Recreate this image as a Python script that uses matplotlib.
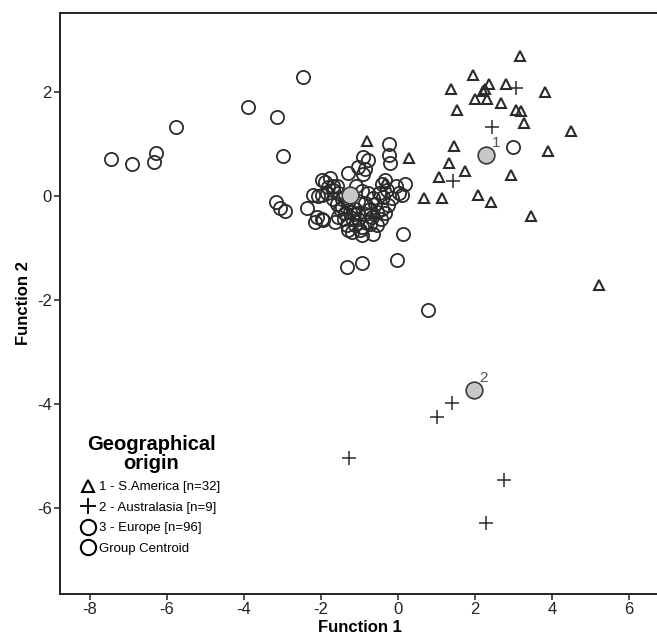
import matplotlib
matplotlib.use("Agg")
import matplotlib.pyplot as plt
from matplotlib.lines import Line2D

plt.rcParams["axes.unicode_minus"] = False

# ---------- data ----------
# 1 - S.America (triangles)
sam_x = [3.17, 1.95, 1.38, 2.37, 2.21, 2.81, 3.82, 2.00, 2.32, 2.66,
         1.52, 3.07, 3.19, 3.26, 4.49, 3.89, 1.44, 0.28, 1.33, 1.74,
         1.07, 2.94, 0.66, 1.14, 2.07, 2.40, 3.45, 5.22, -0.81, -0.34,
         2.25, -0.60]
sam_y = [2.70, 2.33, 2.05, 2.15, 2.03, 2.15, 2.01, 1.87, 1.87, 1.79,
         1.65, 1.65, 1.64, 1.40, 1.25, 0.87, 0.97, 0.73, 0.63, 0.49,
         0.37, 0.40, -0.03, -0.03, 0.03, -0.12, -0.38, -1.71, 1.06, 0.26,
         2.05, -0.30]

# 2 - Australasia (plus)
aus_x = [3.07, 2.45, 1.42, 1.40, 1.00, 2.74, 2.28, -1.27, -0.70]
aus_y = [2.08, 1.32, 0.29, -3.97, -4.24, -5.46, -6.28, -5.04, -0.35]

# 3 - Europe (circles)
eur_x = [-7.46, -6.92, -6.30, -6.33, -5.77, -3.90, -3.14, -2.47, -3.00, -3.16,
         -3.07, -2.93, -2.37, -2.17, -1.98, -2.20, -2.09, -1.98, -1.77, -1.90,
         -1.81, -1.68, -1.98, -2.11, -1.94, -1.64, -1.55, -1.46, -1.29, -1.12,
         -1.38, -1.20, -1.03, -1.33, -1.12, -0.94, -0.73, -0.55, -1.20, -0.94,
         -0.64, -0.86, -0.73, -0.55, -0.68, -0.42, -0.25, -0.34, -0.77, -0.64,
         -0.34, -0.42, -0.29, 0.18, 0.01, -0.16, -0.38, 0.10, 0.12, -0.23,
         -0.23, -0.21, -0.90, -0.77, -1.03, -0.86, -0.90, -1.31, -1.32, -0.94,
         -0.02, 0.78, 2.98, -1.55, -1.70, -1.60, -1.45, -1.05, -0.95, -1.10,
         -1.25, -1.40, -1.05, -0.85, -0.60, -1.50, -1.30, -1.00, -0.80, -1.85,
         -1.15, -1.60, -0.50, -0.45, -0.05, -1.70]
eur_y = [0.72, 0.62, 0.82, 0.65, 1.33, 1.71, 1.53, 2.28, 0.77, -0.11,
         -0.22, -0.29, -0.22, -0.49, -0.45, 0.03, 0.00, 0.31, 0.34, 0.28,
         0.18, 0.12, 0.02, -0.40, -0.46, -0.49, -0.40, -0.21, -0.14, -0.24,
         -0.33, -0.43, -0.33, -0.56, -0.56, -0.59, -0.53, -0.56, -0.69, -0.75,
         -0.72, -0.14, -0.24, -0.30, -0.40, -0.24, -0.17, -0.33, 0.05, -0.04,
         0.31, 0.24, 0.12, 0.24, 0.05, -0.04, -0.01, 0.02, -0.72, 1.00,
         0.79, 0.63, 0.76, 0.69, 0.56, 0.52, 0.42, 0.44, -1.37, -1.28,
         -1.22, -2.19, 0.94, 0.05, -0.05, 0.20, -0.05, -0.10, 0.10, 0.20,
         -0.30, -0.45, -0.45, -0.35, -0.15, -0.25, -0.65, -0.65, -0.50, 0.05,
         -0.35, -0.15, 0.05, -0.45, 0.20, 0.20]

# group centroids
cen_x = [2.29, 1.97, -1.26]
cen_y = [0.79, -3.73, 0.03]
cen_lab = ["1", "2", ""]

legend_labels = ["1 - S.America [n=32]", "2 - Australasia [n=9]",
                 "3 - Europe [n=96]", "Group Centroid"]

INK = "#2b2b2b"
FONT = ["Liberation Sans", "DejaVu Sans"]

fig = plt.figure(figsize=(6.57, 6.38), dpi=100)
ax = fig.add_axes([60 / 657, 44 / 638, 600 / 657, 581 / 638])

ax.plot(eur_x, eur_y, "o", ms=9.5, mfc="none", mec=INK, mew=1.3, zorder=2)
ax.plot(sam_x, sam_y, "^", ms=7.5, mfc="none", mec=INK, mew=1.5, zorder=3)
ax.plot(aus_x, aus_y, "+", ms=10, mec=INK, mew=1.1, zorder=3)
ax.plot(cen_x, cen_y, "o", ms=12, mfc="#c8c8c8", mec="#3a3a3a", mew=1.2, zorder=5)
for x, y, t in zip(cen_x, cen_y, cen_lab):
    ax.annotate(t, (x, y), xytext=(4, 6), textcoords="offset points",
                fontsize=11, color="#555555", family=FONT, zorder=6)

ax.set_xlim(-8.78, 6.8)
ax.set_ylim(-7.65, 3.52)
ax.set_xticks([-8, -6, -4, -2, 0, 2, 4, 6])
ax.set_yticks([-6, -4, -2, 0, 2])

for s in ["left", "bottom", "top"]:
    ax.spines[s].set_linewidth(1.4)
    ax.spines[s].set_color("#222222")
ax.spines["right"].set_visible(False)
ax.tick_params(direction="out", length=4, width=1.2, color="#333333",
               labelsize=12, labelcolor="#222222", pad=2)
for lbl in ax.get_xticklabels() + ax.get_yticklabels():
    lbl.set_family(FONT)

ax.set_xlabel("Function 1", fontsize=12, fontweight="bold", family=FONT, labelpad=2)
ax.set_ylabel("Function 2", fontsize=12, fontweight="bold", family=FONT, labelpad=4)

handles = [
    Line2D([], [], ls="none", marker="^", ms=9, mfc="none", mec="black", mew=1.5),
    Line2D([], [], ls="none", marker="+", ms=12, mec="black", mew=1.3),
    Line2D([], [], ls="none", marker="o", ms=11, mfc="none", mec="black", mew=1.5),
    Line2D([], [], ls="none", marker="o", ms=11, mfc="none", mec="black", mew=1.5),
]
leg = ax.legend(handles, legend_labels, title="Geographical\norigin",
                loc="lower left", bbox_to_anchor=(0.015, 0.045),
                frameon=True, fancybox=False, framealpha=1, edgecolor="white",
                prop={"family": FONT, "size": 9.5}, handlelength=0.9,
                handletextpad=0.35, labelspacing=0.62, borderpad=0.5)
leg.get_title().set_fontsize(14.5)
leg.get_title().set_fontweight("bold")
leg.get_title().set_family(FONT)
leg.get_title().set_multialignment("center")
leg.get_title().set_linespacing(1.0)

fig.savefig("out.png", dpi=100)
